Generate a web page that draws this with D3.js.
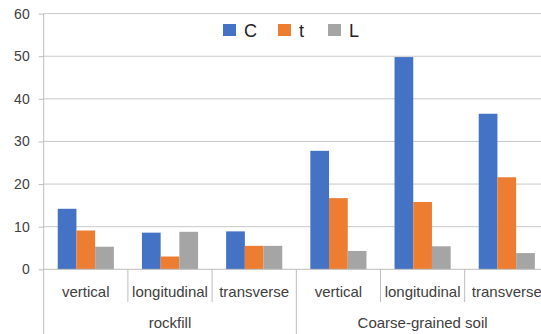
<!DOCTYPE html>
<html>
<head>
<meta charset="utf-8">
<script src="https://cdn.jsdelivr.net/npm/d3@7"></script>
<style>
  html, body { margin: 0; padding: 0; background: #fff; }
  svg { display: block; font-family: "Liberation Sans", Arial, sans-serif; }
</style>
</head>
<body>
<svg id="chart" width="541" height="334"></svg>
<script>
// Material groups and load directions (two-level category axis)
const groups = ["rockfill", "Coarse-grained soil"];
const directions = ["vertical", "longitudinal", "transverse"];
const seriesNames = ["C", "t", "L"];
const seriesColors = ["#4472C4", "#ED7D31", "#A5A5A5"];

// Values per series, ordered rockfill (v, l, t) then coarse-grained soil (v, l, t)
const valuesC = [14.2, 8.6, 8.9, 27.8, 49.8, 36.5];
const valuesT = [9.1, 3.0, 5.5, 16.7, 15.8, 21.6];
const valuesL = [5.3, 8.8, 5.5, 4.3, 5.4, 3.8];
const yTicks = [0, 10, 20, 30, 40, 50, 60];

const categories = [];
groups.forEach(g => directions.forEach(d => categories.push({ group: g, dir: d, key: g + "|" + d })));
const seriesValues = [valuesC, valuesT, valuesL];

const svg = d3.select("#chart");
const plotLeft = 43.7, plotTop = 13.6, plotBottom = 269.3;
const step = 84.2;
const plotRight = plotLeft + step * categories.length; // plot runs past the visible window

const x = d3.scaleBand().domain(categories.map(c => c.key)).range([plotLeft, plotRight]).padding(0);
const xs = d3.scaleBand().domain(seriesNames).range([0, x.bandwidth()]).paddingInner(0).paddingOuter(0.75);
const y = d3.scaleLinear().domain([0, 60]).range([plotBottom, plotTop]);

// Horizontal gridlines
svg.append("g").selectAll("line").data(yTicks.filter(t => t > 0)).join("line")
  .attr("x1", plotLeft).attr("x2", plotRight)
  .attr("y1", d => y(d)).attr("y2", d => y(d))
  .attr("stroke", "#c8c8c8").attr("stroke-width", 1);

// Y axis
const yAxis = svg.append("g").attr("transform", `translate(${plotLeft},0)`)
  .call(d3.axisLeft(y).tickValues(yTicks).tickSize(5).tickPadding(9).tickSizeOuter(0));
yAxis.select(".domain").remove();
yAxis.selectAll(".tick line").attr("stroke", "#bdbdbd");
yAxis.selectAll(".tick text").attr("font-size", 14).attr("fill", "#404040");
svg.append("line").attr("x1", plotLeft).attr("x2", plotLeft).attr("y1", plotTop).attr("y2", 334)
  .attr("stroke", "#bdbdbd");

// Bars
seriesNames.forEach((s, si) => {
  svg.append("g").selectAll("rect").data(categories).join("rect")
    .attr("x", c => x(c.key) + xs(s))
    .attr("width", xs.bandwidth())
    .attr("y", (c, i) => y(seriesValues[si][i]))
    .attr("height", (c, i) => y(0) - y(seriesValues[si][i]))
    .attr("fill", seriesColors[si]);
});

// Baseline
svg.append("line").attr("x1", plotLeft).attr("x2", plotRight).attr("y1", y(0)).attr("y2", y(0))
  .attr("stroke", "#bdbdbd");

// Separators between direction categories
const innerSeps = categories.map((c, i) => i).filter(i => i % 3 !== 0);
svg.append("g").selectAll("line").data(innerSeps).join("line")
  .attr("x1", i => x(categories[i].key)).attr("x2", i => x(categories[i].key))
  .attr("y1", y(0)).attr("y2", 302)
  .attr("stroke", "#bdbdbd");
// Separators between material groups
svg.append("g").selectAll("line").data([3, 6]).join("line")
  .attr("x1", i => plotLeft + i * step).attr("x2", i => plotLeft + i * step)
  .attr("y1", y(0)).attr("y2", 334)
  .attr("stroke", "#bdbdbd");

// Direction labels
svg.append("g").selectAll("text").data(categories).join("text")
  .attr("x", c => x(c.key) + x.bandwidth() / 2)
  .attr("y", 296.5)
  .attr("text-anchor", "middle")
  .attr("font-size", 15).attr("fill", "#404040")
  .text(c => c.dir);

// Group labels
svg.append("g").selectAll("text").data(groups).join("text")
  .attr("x", (g, gi) => plotLeft + step * (gi * 3 + 1.5))
  .attr("y", 328)
  .attr("text-anchor", "middle")
  .attr("font-size", 15).attr("fill", "#404040")
  .text(g => g);

// Legend
const legendX = [223, 278, 328];
const legend = svg.append("g").selectAll("g").data(seriesNames).join("g")
  .attr("transform", (d, i) => `translate(${legendX[i]},24)`);
legend.append("rect").attr("width", 13).attr("height", 12).attr("fill", (d, i) => seriesColors[i]);
legend.append("text").attr("x", 21).attr("y", 12.5)
  .attr("font-size", 18).attr("fill", "#222").text(d => d);
</script>
</body>
</html>
